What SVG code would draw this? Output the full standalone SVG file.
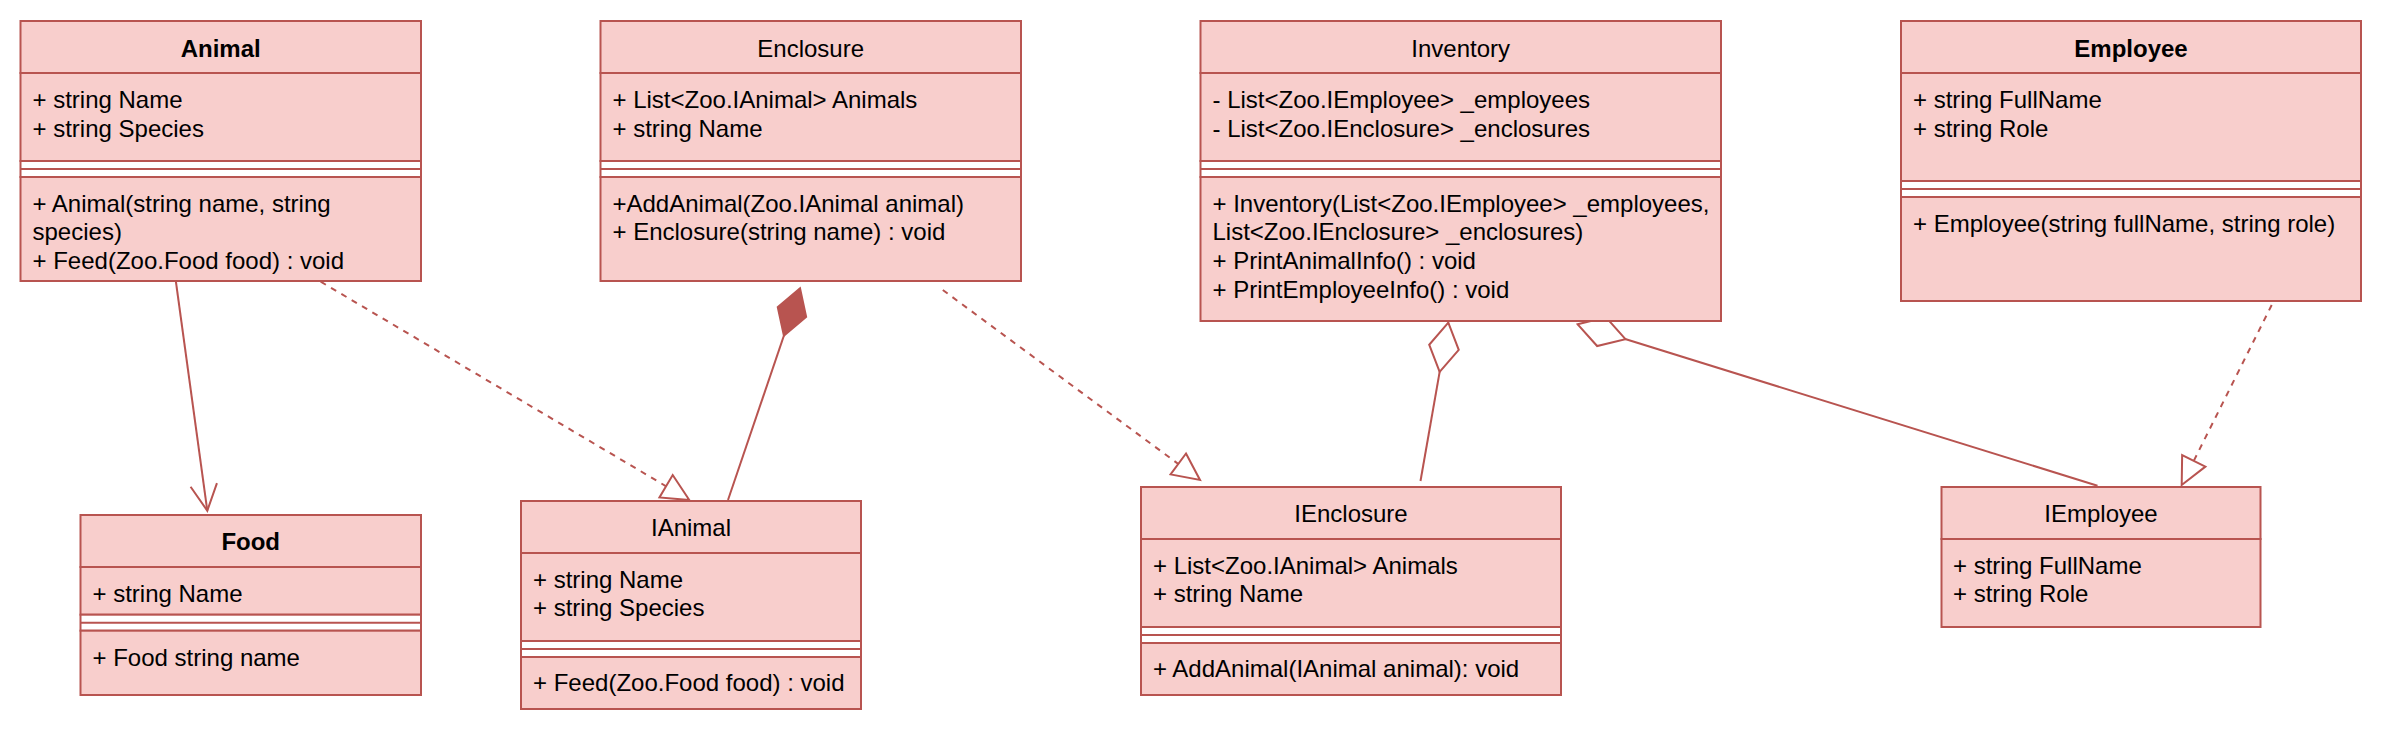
<svg xmlns="http://www.w3.org/2000/svg" width="2382" height="736" viewBox="0 0 2382 736">
<style>
.bx{fill:#f8cecc;stroke:#b85450;stroke-width:2}
.sp{fill:#ffffff;stroke:#b85450;stroke-width:2}
.ln{stroke:#b85450;stroke-width:2;fill:none}
.t{font-family:"Liberation Sans",Arial,Helvetica,sans-serif;font-size:24px;fill:#000}
.h{text-anchor:middle}
.b{font-weight:bold}
.c{stroke:#b85450;stroke-width:2;fill:none}
.d{stroke-dasharray:6 6}
</style>
<defs>
<marker id="tri" markerUnits="userSpaceOnUse" markerWidth="34" markerHeight="32" viewBox="0 0 34 32" refX="29" refY="15" orient="auto" overflow="visible">
<path d="M2,2 L29,15 L2,28 Z" fill="#ffffff" stroke="#b85450" stroke-width="2"/>
</marker>
<marker id="open" markerUnits="userSpaceOnUse" markerWidth="34" markerHeight="32" viewBox="0 0 34 32" refX="28" refY="15" orient="auto" overflow="visible">
<path d="M2,1.7 L28,15 L2,28.3" fill="none" stroke="#b85450" stroke-width="2"/>
</marker>
<marker id="diaF" markerUnits="userSpaceOnUse" markerWidth="54" markerHeight="32" viewBox="0 0 54 32" refX="1" refY="16" orient="auto" overflow="visible">
<path d="M1,16 L26,1 L51,16 L26,31 Z" fill="#b85450" stroke="#b85450" stroke-width="2"/>
</marker>
<marker id="diaH" markerUnits="userSpaceOnUse" markerWidth="54" markerHeight="32" viewBox="0 0 54 32" refX="1" refY="16" orient="auto" overflow="visible">
<path d="M1,16 L26,1 L51,16 L26,31 Z" fill="#ffffff" stroke="#b85450" stroke-width="2"/>
</marker>
</defs>
<rect width="2382" height="736" fill="#ffffff"/>

<g id="connectors">
<path class="c" d="M175,275 L207.3,510.7" marker-end="url(#open)"/>
<path class="c d" d="M320.7,281.7 L689.3,500" marker-end="url(#tri)"/>
<path class="c" d="M800,288.3 L728,500" marker-start="url(#diaF)"/>
<path class="c d" d="M942.8,290 L1200,480" marker-end="url(#tri)"/>
<path class="c" d="M1448.3,322.7 L1420.5,481" marker-start="url(#diaH)"/>
<path class="c" d="M1577.7,324.3 L2097.5,485.7" marker-start="url(#diaH)"/>
<path class="c d" d="M2271.7,305 L2181.7,485" marker-end="url(#tri)"/>
</g>

<g id="Animal">
<rect class="bx" x="20.5" y="21" width="400.5" height="52"/>
<rect class="bx" x="20.5" y="73" width="400.5" height="88"/>
<rect class="sp" x="20.5" y="161" width="400.5" height="16"/>
<line class="ln" x1="20.5" y1="169" x2="421" y2="169"/>
<rect class="bx" x="20.5" y="177" width="400.5" height="104"/>
<text class="t h b" x="220.7" y="56.5">Animal</text>
<text class="t" x="32.5" y="108">+ string Name</text>
<text class="t" x="32.5" y="136.5">+ string Species</text>
<text class="t" x="32.5" y="211.5">+ Animal(string name, string</text>
<text class="t" x="32.5" y="240">species)</text>
<text class="t" x="32.5" y="269">+ Feed(Zoo.Food food) : void</text>
</g>

<g id="Enclosure">
<rect class="bx" x="600.5" y="21" width="420.5" height="52"/>
<rect class="bx" x="600.5" y="73" width="420.5" height="88"/>
<rect class="sp" x="600.5" y="161" width="420.5" height="16"/>
<line class="ln" x1="600.5" y1="169" x2="1021" y2="169"/>
<rect class="bx" x="600.5" y="177" width="420.5" height="104"/>
<text class="t h" x="810.7" y="56.5">Enclosure</text>
<text class="t" x="612.5" y="108">+ List&lt;Zoo.IAnimal&gt; Animals</text>
<text class="t" x="612.5" y="136.5">+ string Name</text>
<text class="t" x="612.5" y="211.5">+AddAnimal(Zoo.IAnimal animal)</text>
<text class="t" x="612.5" y="240">+ Enclosure(string name) : void</text>
</g>

<g id="Inventory">
<rect class="bx" x="1200.5" y="21" width="520.5" height="52"/>
<rect class="bx" x="1200.5" y="73" width="520.5" height="88"/>
<rect class="sp" x="1200.5" y="161" width="520.5" height="16"/>
<line class="ln" x1="1200.5" y1="169" x2="1721" y2="169"/>
<rect class="bx" x="1200.5" y="177" width="520.5" height="144"/>
<text class="t h" x="1460.7" y="56.5">Inventory</text>
<text class="t" x="1212.5" y="108">- List&lt;Zoo.IEmployee&gt; _employees</text>
<text class="t" x="1212.5" y="136.5">- List&lt;Zoo.IEnclosure&gt; _enclosures</text>
<text class="t" x="1212.5" y="211.5">+ Inventory(List&lt;Zoo.IEmployee&gt; _employees,</text>
<text class="t" x="1212.5" y="240">List&lt;Zoo.IEnclosure&gt; _enclosures)</text>
<text class="t" x="1212.5" y="269">+ PrintAnimalInfo() : void</text>
<text class="t" x="1212.5" y="297.5">+ PrintEmployeeInfo() : void</text>
</g>

<g id="Employee">
<rect class="bx" x="1901" y="21" width="460" height="52"/>
<rect class="bx" x="1901" y="73" width="460" height="108"/>
<rect class="sp" x="1901" y="181" width="460" height="16"/>
<line class="ln" x1="1901" y1="189" x2="2361" y2="189"/>
<rect class="bx" x="1901" y="197" width="460" height="104"/>
<text class="t h b" x="2131" y="56.5">Employee</text>
<text class="t" x="1913" y="108">+ string FullName</text>
<text class="t" x="1913" y="136.5">+ string Role</text>
<text class="t" x="1913" y="231.5">+ Employee(string fullName, string role)</text>
</g>

<g id="Food">
<rect class="bx" x="80.5" y="515" width="340.5" height="52"/>
<rect class="bx" x="80.5" y="567" width="340.5" height="47.7"/>
<rect class="sp" x="80.5" y="614.7" width="340.5" height="16"/>
<line class="ln" x1="80.5" y1="622.7" x2="421" y2="622.7"/>
<rect class="bx" x="80.5" y="630.7" width="340.5" height="64.3"/>
<text class="t h b" x="250.7" y="550">Food</text>
<text class="t" x="92.5" y="601.5">+ string Name</text>
<text class="t" x="92.5" y="665.5">+ Food string name</text>
</g>

<g id="IAnimal">
<rect class="bx" x="521" y="501" width="340" height="52"/>
<rect class="bx" x="521" y="553" width="340" height="88"/>
<rect class="sp" x="521" y="641" width="340" height="16"/>
<line class="ln" x1="521" y1="649" x2="861" y2="649"/>
<rect class="bx" x="521" y="657" width="340" height="52"/>
<text class="t h" x="691" y="536">IAnimal</text>
<text class="t" x="533" y="587.5">+ string Name</text>
<text class="t" x="533" y="616">+ string Species</text>
<text class="t" x="533" y="691">+ Feed(Zoo.Food food) : void</text>
</g>

<g id="IEnclosure">
<rect class="bx" x="1141" y="487" width="420" height="52"/>
<rect class="bx" x="1141" y="539" width="420" height="88"/>
<rect class="sp" x="1141" y="627" width="420" height="16"/>
<line class="ln" x1="1141" y1="635" x2="1561" y2="635"/>
<rect class="bx" x="1141" y="643" width="420" height="52"/>
<text class="t h" x="1351" y="522">IEnclosure</text>
<text class="t" x="1153" y="573.5">+ List&lt;Zoo.IAnimal&gt; Animals</text>
<text class="t" x="1153" y="602">+ string Name</text>
<text class="t" x="1153" y="677">+ AddAnimal(IAnimal animal): void</text>
</g>

<g id="IEmployee">
<rect class="bx" x="1941.5" y="487" width="319" height="52"/>
<rect class="bx" x="1941.5" y="539" width="319" height="88"/>
<text class="t h" x="2101" y="522">IEmployee</text>
<text class="t" x="1953" y="573.5">+ string FullName</text>
<text class="t" x="1953" y="602">+ string Role</text>
</g>
</svg>
